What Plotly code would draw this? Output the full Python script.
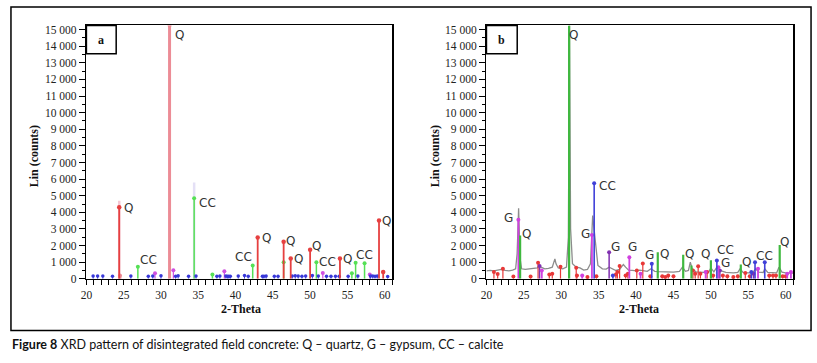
import plotly.graph_objects as go

W, H = 817, 363

# ---------------- Panel a data (2-theta, counts) ----------------
a_red_x = [24.4, 42.97, 46.45, 47.4, 50.0, 54.0, 59.24, 59.8]
a_red_y = [4300, 2490, 2235, 1215, 1745, 1215, 3510, 410]
a_pink_x = [31.15, 24.5]
a_pink_y = [15250, 200]
a_faint_pink_x = [24.4]
a_faint_pink_y = [4700]
a_faint_lav_x = [34.45]
a_faint_lav_y = [5800]
a_green_x = [26.9, 34.45, 36.9, 42.3, 46.45, 50.84, 55.6, 56.1, 57.3]
a_green_y = [725, 4840, 250, 800, 1000, 1000, 335, 960, 940]
a_mag_x = [29.2, 31.66, 38.5, 51.7, 58.0]
a_mag_y = [335, 510, 450, 350, 250]
a_blue_x = [20.9, 21.5, 22.2, 23.5, 25.96, 28.3, 28.9, 30.0, 31.96, 32.3, 33.7, 34.7,
            37.5, 37.9, 38.7, 38.9, 39.1, 39.3, 40.36, 41.2, 41.7, 43.6, 43.8, 44.1,
            45.2, 45.7, 47.6, 48.0, 48.4, 48.9, 49.4, 50.3, 51.1, 52.2, 52.8, 53.4,
            53.9, 55.1, 56.4, 58.1, 58.4, 58.7, 59.0, 60.4]
a_blue_y = [160, 160, 170, 150, 160, 150, 170, 180, 150, 180, 150, 160,
            150, 170, 160, 150, 150, 150, 160, 200, 150, 150, 150, 160,
            150, 150, 170, 180, 160, 150, 170, 190, 160, 150, 150, 150,
            150, 150, 160, 170, 160, 150, 160, 130]
a_lab_x = [32.5, 25.7, 28.3, 36.2, 41.1, 44.1, 47.4, 48.5, 50.9, 52.3, 55.0, 57.3, 60.2]
a_lab_y = [14700, 4235, 1160, 4590, 1290, 2430, 2275, 1195, 1980, 1020, 1215, 1450, 3470]
a_lab_t = ["Q", "Q", "CC", "CC", "CC", "Q", "Q", "Q", "Q", "CC", "Q", "CC", "Q"]

# ---------------- Panel b data ----------------
b_gray_x = [20.0, 20.5, 21.0, 21.5, 22.0, 22.5, 23.0, 23.5, 23.9, 24.1, 24.3, 24.5, 24.7,
            25.2, 25.8, 26.3, 26.8, 27.0, 27.3, 27.8, 28.3, 28.8, 29.0, 29.15, 29.3,
            29.6, 30.2, 30.7, 30.95, 31.1, 31.25, 31.5, 32.0, 32.5, 33.0, 33.5, 33.9,
            34.2, 34.5, 34.9, 35.5, 36.0, 36.4, 36.8, 37.3, 37.8, 38.3, 38.6, 39.0,
            39.5, 40.0, 40.5, 41.0, 41.5, 42.0, 42.5, 43.0, 44.0, 45.0, 45.8, 46.2,
            46.6, 47.0, 47.25, 47.5, 48.0, 49.0, 49.7, 50.0, 50.4, 50.8, 51.2, 52.0,
            53.0, 53.6, 53.9, 54.3, 55.0, 55.6, 56.0, 56.4, 57.0, 57.2, 57.6, 58.2,
            58.8, 59.1, 59.5, 60.0, 60.5, 61.0]
b_gray_y = [480, 500, 470, 520, 560, 500, 480, 520, 600, 1500, 4250, 1200, 600,
            560, 580, 600, 650, 800, 700, 600, 620, 700, 1000, 1200, 900,
            650, 600, 700, 2500, 15250, 3000, 900, 700, 650, 520, 560, 900,
            3800, 2500, 800, 600, 580, 700, 600, 500, 560, 860, 700, 520,
            500, 480, 520, 470, 450, 600, 450, 430, 420, 400, 450, 700,
            450, 500, 1000, 600, 420, 380, 400, 650, 420, 700, 500, 380,
            350, 380, 600, 380, 350, 380, 600, 400, 380, 600, 380, 350,
            360, 700, 400, 350, 360, 340]
b_green_x = [24.5, 31.05, 42.9, 46.3, 47.4, 50.0, 54.0, 59.2]
b_green_y = [2600, 15250, 1590, 1450, 800, 1120, 860, 2040]
b_mag_x = [24.27, 27.4, 32.8, 34.1, 39.1, 40.6, 49.3, 51.0, 56.3, 60.2, 60.7]
b_mag_y = [3550, 500, 200, 2630, 1290, 300, 400, 700, 600, 300, 400]
b_purple_x = [27.1, 36.4, 51.2, 55.7]
b_purple_y = [765, 1590, 500, 300]
b_blue_x = [34.4, 36.9, 42.1, 50.8, 55.4, 55.9, 57.2]
b_blue_y = [5750, 200, 900, 1100, 400, 1000, 1000]
b_red_x = [21.0, 21.5, 22.2, 23.6, 25.9, 26.9, 28.4, 28.8, 29.9, 32.0, 32.1, 33.5, 34.7,
           37.3, 37.5, 37.8, 38.6, 38.9, 40.1, 40.9, 41.9, 43.5, 43.9, 44.3, 45.0,
           47.6, 47.9, 48.3, 48.6, 49.5, 50.3, 51.6, 52.2, 53.0, 53.6, 54.6, 55.2,
           57.8, 58.3, 58.7, 59.6, 60.0]
b_red_y = [400, 280, 600, 130, 130, 960, 250, 300, 720, 670, 200, 100, 150,
           250, 400, 765, 200, 300, 500, 920, 150, 150, 100, 200, 150,
           500, 300, 750, 300, 400, 200, 200, 150, 100, 150, 350, 150,
           200, 200, 200, 150, 150]
b_lab_x = [31.7, 23.0, 25.4, 33.2, 36.2, 37.3, 39.5, 41.8, 43.8, 47.2, 49.3, 52.0, 52.0, 54.8, 57.2, 59.9]
b_lab_y = [14700, 3650, 2720, 2690, 5570, 1940, 1940, 1410, 1510, 1510, 1510, 1745, 920, 1020, 1390, 2200]
b_lab_t = ["Q", "G", "Q", "G", "CC", "G", "G", "G", "Q", "Q", "Q", "CC", "G", "Q", "CC", "Q"]

x_tickvals = [20, 25, 30, 35, 40, 45, 50, 55, 60]
y_tickvals = [0, 1000, 2000, 3000, 4000, 5000, 6000, 7000, 8000, 9000, 10000,
              11000, 12000, 13000, 14000, 15000]
y_ticktext = ["0", "1 000", "2 000", "3 000", "4 000", "5 000", "6 000", "7 000", "8 000",
              "9 000", "10 000", "11 000", "12 000", "13 000", "14 000", "15 000"]

X_RANGE = [20, 61]
Y_RANGE = [0, 15250]


def sticks(xs, ys):
    sx, sy = [], []
    for x, y in zip(xs, ys):
        sx += [x, x, None]
        sy += [0, y, None]
    return sx, sy


fig = go.Figure()


def add_sticks(xs, ys, color, width, xa, ya, marker=True, msize=4, opacity=1.0):
    sx, sy = sticks(xs, ys)
    fig.add_trace(go.Scatter(x=sx, y=sy, mode="lines", line=dict(color=color, width=width),
                             opacity=opacity, xaxis=xa, yaxis=ya, hoverinfo="skip",
                             showlegend=False))
    if marker:
        fig.add_trace(go.Scatter(x=xs, y=ys, mode="markers",
                                 marker=dict(color=color, size=msize),
                                 opacity=opacity, xaxis=xa, yaxis=ya, hoverinfo="skip",
                                 showlegend=False))


# Panel a
add_sticks(a_faint_pink_x, a_faint_pink_y, "#f4c8d4", 2.5, "x", "y", marker=False)
add_sticks(a_faint_lav_x, a_faint_lav_y, "#e4e0f6", 2.5, "x", "y", marker=False)
add_sticks(a_pink_x, a_pink_y, "#ec8c96", 3, "x", "y", marker=True)
add_sticks(a_green_x, a_green_y, "#55e055", 1.5, "x", "y")
add_sticks(a_mag_x, a_mag_y, "#d050e0", 1.2, "x", "y")
add_sticks(a_blue_x, a_blue_y, "#3838d8", 1, "x", "y", msize=3.5)
add_sticks(a_red_x, a_red_y, "#e64040", 1.8, "x", "y", msize=4.5)

# Panel b
fig.add_trace(go.Scatter(x=b_gray_x, y=b_gray_y, mode="lines",
                         line=dict(color="#8c8c8c", width=1.3), xaxis="x2", yaxis="y2",
                         hoverinfo="skip", showlegend=False))
add_sticks(b_red_x, b_red_y, "#e83838", 1.2, "x2", "y2")
add_sticks(b_purple_x, b_purple_y, "#8030b0", 1.5, "x2", "y2")
add_sticks(b_mag_x, b_mag_y, "#d040e0", 1.8, "x2", "y2")
add_sticks(b_blue_x, b_blue_y, "#4040d8", 1.6, "x2", "y2")
add_sticks(b_green_x, b_green_y, "#3fb83f", 2.2, "x2", "y2", marker=False)

FONT_TICK = dict(family="Liberation Serif", size=11.5, color="#222")

def xaxis_cfg(domain, anchor):
    return dict(domain=domain, anchor=anchor, range=X_RANGE, tickvals=x_tickvals,
                ticks="outside", ticklen=5, tickwidth=1, tickcolor="black",
                showline=True, linecolor="black", linewidth=1.5, mirror=True,
                showgrid=False, zeroline=False, tickfont=FONT_TICK,
                minor=dict(dtick=1, tick0=20, ticks="outside", ticklen=5, tickcolor="black"))

def yaxis_cfg(anchor):
    return dict(domain=[1 - 283 / H, 1 - 24 / H], anchor=anchor, range=Y_RANGE,
                tickvals=y_tickvals, ticktext=y_ticktext,
                ticks="outside", ticklen=6, tickwidth=1, tickcolor="black",
                showline=True, linecolor="black", linewidth=1.5, mirror=True,
                showgrid=False, zeroline=False, tickfont=FONT_TICK,
                minor=dict(dtick=500, tick0=0, ticks="outside", ticklen=3, tickcolor="black"))

fig.update_layout(
    width=W, height=H, margin=dict(l=0, r=0, t=0, b=0),
    paper_bgcolor="white", plot_bgcolor="white",
    xaxis=xaxis_cfg([81 / W, 389 / W], "y"),
    yaxis=yaxis_cfg("x"),
    xaxis2=xaxis_cfg([484 / W, 793 / W], "y2"),
    yaxis2=yaxis_cfg("x2"),
)

ann = []
LABFONT = dict(family="DejaVu Sans", size=12, color="#333")
for x, y, t in zip(a_lab_x, a_lab_y, a_lab_t):
    ann.append(dict(x=x, y=y, xref="x", yref="y", text=t, showarrow=False, font=LABFONT,
                    xanchor="center", yanchor="middle"))
for x, y, t in zip(b_lab_x, b_lab_y, b_lab_t):
    ann.append(dict(x=x, y=y, xref="x2", yref="y2", text=t, showarrow=False, font=LABFONT,
                    xanchor="center", yanchor="middle"))

def px(xp):
    return xp / W

def py(yp):
    return 1 - yp / H

TITLEFONT = dict(family="Liberation Serif", size=12, color="#111")
for xc in (28, 432):
    ann.append(dict(x=px(xc), y=py(158), xref="paper", yref="paper", text="<b>Lin (counts)</b>",
                    textangle=-90, showarrow=False, font=TITLEFONT,
                    xanchor="center", yanchor="middle"))
for xc in (237, 638):
    ann.append(dict(x=px(xc), y=py(314), xref="paper", yref="paper", text="<b>2-Theta</b>",
                    showarrow=False, font=TITLEFONT, xanchor="center", yanchor="middle"))
for xc, t in ((96, "a"), (499.5, "b")):
    ann.append(dict(x=px(xc), y=py(39), xref="paper", yref="paper", text="<b>" + t + "</b>",
                    showarrow=False, font=dict(family="Liberation Serif", size=12, color="#111"),
                    xanchor="center", yanchor="middle"))
ann.append(dict(x=px(4), y=py(350), xref="paper", yref="paper", xanchor="left", yanchor="middle",
                text="<b>Figure 8</b> XRD pattern of disintegrated field concrete: Q \u2013 quartz, G \u2013 gypsum, CC \u2013 calcite",
                showarrow=False, font=dict(family="Lato", size=12.5, color="#111")))
fig.update_layout(annotations=ann)

shapes = [
    dict(type="rect", xref="paper", yref="paper", x0=px(5), x1=px(811), y0=py(336), y1=py(5),
         line=dict(color="black", width=1.5)),
    dict(type="rect", xref="paper", yref="paper", x0=px(81), x1=px(111), y0=py(53), y1=py(24),
         line=dict(color="black", width=1.5)),
    dict(type="rect", xref="paper", yref="paper", x0=px(484), x1=px(515), y0=py(53), y1=py(24),
         line=dict(color="black", width=1.5)),
]
fig.update_layout(shapes=shapes)

fig.write_html("out.html", config={"displayModeBar": False, "staticPlot": True},
               post_script="document.body.style.margin='0';document.body.style.overflow='hidden';")
